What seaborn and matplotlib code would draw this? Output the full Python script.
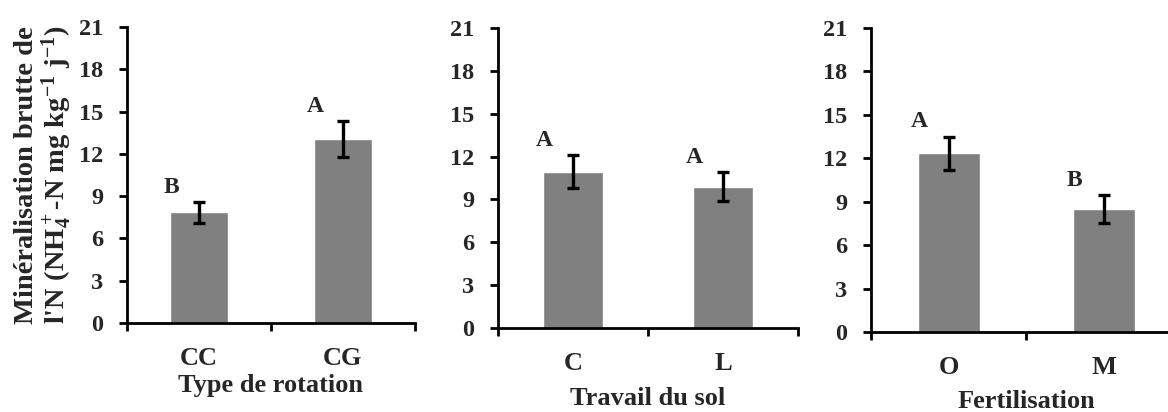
import matplotlib
matplotlib.use("Agg")
import matplotlib.pyplot as plt
import seaborn as sns

# Data
rotation_cats = ["CC", "CG"]
rotation_means = [7.85, 13.05]
rotation_err = [0.75, 1.3]
rotation_letters = ["B", "A"]

travail_cats = ["C", "L"]
travail_means = [10.95, 9.9]
travail_err = [1.15, 1.0]
travail_letters = ["A", "A"]

fert_cats = ["O", "M"]
fert_means = [12.35, 8.5]
fert_err = [1.15, 0.95]
fert_letters = ["A", "B"]

xlabels = ["Type de rotation", "Travail du sol", "Fertilisation"]
yticks = [0, 3, 6, 9, 12, 15, 18, 21]

sns.set_style("ticks")
plt.rcParams['font.family'] = ['Liberation Serif', 'DejaVu Serif']
plt.rcParams['font.weight'] = 'bold'
plt.rcParams['mathtext.fontset'] = 'custom'
plt.rcParams['mathtext.rm'] = 'Liberation Serif:bold'
plt.rcParams['mathtext.it'] = 'Liberation Serif:bold'
plt.rcParams['mathtext.bf'] = 'Liberation Serif:bold'
plt.rcParams['mathtext.default'] = 'rm'

fig = plt.figure(figsize=(11.68, 4.12), dpi=100)
W, H = 1168, 412
# axes boxes in pixels: left, right, top (y=21), bottom (y=0)
boxes = [(127, 415, 27, 323), (498, 798, 28, 328), (871, 1181, 28, 332)]
label_pads = [3, 9, 8]

panels = [
    (rotation_cats, rotation_means, rotation_err, rotation_letters),
    (travail_cats, travail_means, travail_err, travail_letters),
    (fert_cats, fert_means, fert_err, fert_letters),
]

for i, ((cats, means, errs, letters), (l, r, t, b)) in enumerate(zip(panels, boxes)):
    ax = fig.add_axes([l / W, 1 - b / H, (r - l) / W, (b - t) / H])
    sns.barplot(x=cats, y=means, color="#808080", saturation=1, width=0.4,
                errorbar=None, ax=ax)
    ax.errorbar(range(len(cats)), means, yerr=errs, fmt="none", ecolor="black",
                elinewidth=2.4, capsize=4.5, capthick=2.4)
    for j, (m, e, let) in enumerate(zip(means, errs, letters)):
        ax.text(j - 0.19, m + e + 0.65, let, ha="center", va="baseline",
                fontsize=17, fontweight="bold")
    ax.set_xlim(-0.5, 1.5)
    ax.set_ylim(0, 21)
    ax.set_yticks(yticks)
    ax.set_yticklabels([str(v) for v in yticks], fontsize=17.5, fontweight="bold")
    ax.set_xticks([-0.5, 0.5, 1.5])
    ax.set_xticklabels([])
    ax.set_xticks([0, 1], minor=True)
    ax.set_xticklabels(cats, minor=True, fontsize=19, fontweight="bold")
    ax.tick_params(axis="x", which="minor", length=0, pad=17)
    ax.tick_params(axis="both", which="major", direction="out", length=6,
                   width=2, color="black")
    ax.tick_params(axis="y", pad=11)
    ax.set_xlabel(xlabels[i], fontsize=19, fontweight="bold", labelpad=label_pads[i])
    for s in ["top", "right"]:
        ax.spines[s].set_visible(False)
    for s in ["left", "bottom"]:
        ax.spines[s].set_linewidth(2)
        ax.spines[s].set_color("black")
    if i == 0:
        ax.set_ylabel("Minéralisation brutte de\n"
                      "l'N (NH$_4^+$-N mg kg$^{-1}$ j$^{-1}$)",
                      fontsize=20.5, fontweight="bold", linespacing=1.0, labelpad=4)

fig.savefig("out.png", dpi=100)
